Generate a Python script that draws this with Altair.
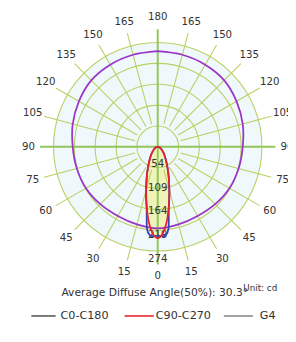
import altair as alt
import pandas as pd

# ---------------- data ----------------
MAX_CD = 274
RING_LABELS = [54, 109, 164, 219, 274]
ANGLE_LABELS = [0, 15, 30, 45, 60, 75, 90, 105, 120, 135, 150, 165, 180]

LOBE_ANGLES = [0, 2.5, 5, 7.5, 10, 12.5, 15, 20, 25, 30, 40, 50, 60, 70, 80, 90]
C0_C180 = [207, 208, 207, 192, 148, 123, 104, 75, 54, 40, 24, 14, 9, 5, 2, 0]
C90_C270 = [213, 207, 191, 170, 146, 125, 105, 75, 54, 40, 24, 14, 9, 5, 2, 0]

G4_ANGLES = [0, 15, 30, 45, 60, 75, 90, 105, 120, 135, 150, 165, 180]
G4 = [190, 187, 186, 189, 193, 195, 198, 205, 212, 219, 221, 222, 223]

SPOKE_ANGLES = [15, 30, 45, 60, 75, 105, 120, 135, 150, 165]

TITLE = "Average Diffuse Angle(50%): 30.3°"
UNIT = "Unit: cd"
LEGEND = ["C0-C180", "C90-C270", "G4"]
LEGEND_COLORS = ["#555555", "#e8202a", "#8a8a8a"]

# ---------------- layout ----------------
W, H = 288, 334
CXP, CYP = 154, 138       # centre of the polar plot in view pixels
R_PX = 121                 # outer ring radius in pixels
K = MAX_CD / R_PX          # cd per pixel

xs = alt.Scale(domain=[-CXP * K, (W - CXP) * K], nice=False, zero=False)
ys = alt.Scale(domain=[-(H - CYP) * K, CYP * K], nice=False, zero=False)
X = lambda f: alt.X(f, type="quantitative", scale=xs, axis=None)
Y = lambda f: alt.Y(f, type="quantitative", scale=ys, axis=None)

GRID = "#bccf62"
AXIS_GREEN = "#93c65a"
FONT = "DejaVu Sans"


def full_curve(angles, vals, name):
    rows = []
    for a, v in zip(reversed(angles), reversed(vals)):
        rows.append((-a, v))
    for a, v in zip(angles[1:], vals[1:]):
        rows.append((a, v))
    return pd.DataFrame({"a": [r[0] for r in rows], "r": [r[1] for r in rows],
                         "i": list(range(len(rows))), "s": name})


polar_xy = dict(x="datum.r*sin(datum.a*PI/180)", y="-datum.r*cos(datum.a*PI/180)")

# background disc
bg = alt.Chart(pd.DataFrame({"r": [MAX_CD]})).mark_point(
    shape="circle", filled=True, color="#eff8fb", opacity=1, strokeWidth=0
).encode(
    x=alt.value(CXP), y=alt.value(CYP),
    size=alt.Size("sz:Q", scale=None, legend=None)
).transform_calculate(sz=f"PI*pow(datum.r/{K},2)")

# lobe fill (C90-C270 area)
lobe_df = pd.DataFrame({"a": LOBE_ANGLES, "r": C90_C270})
lobe_fill = alt.Chart(lobe_df).mark_area(
    orient="horizontal", color="#eef2a8", opacity=0.8, interpolate="monotone"
).encode(
    y=Y("y"), x=X("x"), x2="x2"
).transform_calculate(**polar_xy).transform_calculate(x2="-datum.x")

# rings
ring_df = pd.DataFrame({"r": [MAX_CD * (i + 1) / 5 for i in range(5)]})
rings = alt.Chart(ring_df).mark_point(
    shape="circle", filled=False, color=GRID, strokeWidth=1.1, opacity=1
).encode(
    x=alt.value(CXP), y=alt.value(CYP),
    size=alt.Size("sz:Q", scale=None, legend=None)
).transform_calculate(sz=f"PI*pow(datum.r/{K},2)")

# spokes
sp_rows = []
for a in SPOKE_ANGLES:
    sp_rows.append({"a": a})
    sp_rows.append({"a": -a})
spokes = alt.Chart(pd.DataFrame(sp_rows)).mark_rule(color=GRID, strokeWidth=1.1).encode(
    x=X("x1"), y=Y("y1"), x2="x2", y2="y2"
).transform_calculate(
    x1=f"{MAX_CD/5}*sin(datum.a*PI/180)", y1=f"-{MAX_CD/5}*cos(datum.a*PI/180)",
    x2=f"{MAX_CD}*sin(datum.a*PI/180)", y2=f"-{MAX_CD}*cos(datum.a*PI/180)"
)

axes_df = pd.DataFrame({"x1": [0, -MAX_CD], "y1": [-MAX_CD, 0], "x2": [0, MAX_CD], "y2": [MAX_CD, 0]})
main_axes = alt.Chart(axes_df).mark_rule(color=AXIS_GREEN, strokeWidth=2).encode(
    x=X("x1"), y=Y("y1"), x2="x2", y2="y2"
)

# ring labels
ring_lab = alt.Chart(pd.DataFrame({"v": RING_LABELS, "i": range(1, 6)})).mark_text(
    font=FONT, fontSize=10.5, color="#333333", baseline="middle", align="center"
).encode(
    x=alt.value(CXP), y=Y("y"), text="v:Q"
).transform_calculate(y=f"-(datum.i*{MAX_CD}/5 - 6*{K})")

# curves
curves_df = pd.concat([
    full_curve(G4_ANGLES, G4, "G4"),
    full_curve(LOBE_ANGLES, C0_C180, "C0-C180"),
    full_curve(LOBE_ANGLES, C90_C270, "C90-C270"),
])
curves = alt.Chart(curves_df).mark_line(strokeWidth=1.8, interpolate="cardinal").encode(
    x=X("x"), y=Y("y"), order="i:Q", detail="s:N",
    color=alt.Color("s:N", scale=alt.Scale(domain=["G4", "C0-C180", "C90-C270"],
                                           range=["#9a35c8", "#3a3fb8", "#e8202a"]), legend=None)
).transform_calculate(**polar_xy)

# angle labels
al_rows = []
for a in ANGLE_LABELS:
    al_rows.append({"a": a, "t": str(a)})
    if 0 < a < 180:
        al_rows.append({"a": -a, "t": str(a)})
ang_lab = alt.Chart(pd.DataFrame(al_rows)).mark_text(
    font=FONT, fontSize=10.5, color="#333333", baseline="middle", align="center"
).encode(
    x=X("x"), y=Y("y"), text="t:N"
).transform_calculate(x=f"133*{K}*sin(datum.a*PI/180)", y=f"-133*{K}*cos(datum.a*PI/180)")

one = pd.DataFrame({"d": [0]})
title = alt.Chart(one).mark_text(font=FONT, fontSize=11, color="#333333", align="center",
                                 baseline="middle").encode(
    x=alt.value(151), y=alt.value(288), text=alt.value(TITLE))
unit = alt.Chart(one).mark_text(font=FONT, fontSize=9, color="#333333", align="left",
                                baseline="middle").encode(
    x=alt.value(242), y=alt.value(283), text=alt.value(UNIT))

leg_layers = []
line_x = [(24, 49), (120, 150), (222, 252)]
text_x = [54, 152, 259]
for name, col, (a, b), tx in zip(LEGEND, LEGEND_COLORS, line_x, text_x):
    leg_layers.append(alt.Chart(one).mark_rule(color=col, strokeWidth=1.6).encode(
        x=alt.value(a), x2=alt.value(b), y=alt.value(312)))
    leg_layers.append(alt.Chart(one).mark_text(font=FONT, fontSize=11.5, color="#333333",
                                               align="left", baseline="middle").encode(
        x=alt.value(tx), y=alt.value(312), text=alt.value(name)))

chart = alt.layer(
    bg, lobe_fill, rings, spokes, main_axes, ring_lab, curves, ang_lab, title, unit, *leg_layers
).properties(
    width=W, height=H, padding=0, autosize=alt.AutoSizeParams(type="none"), background="white"
).configure_view(stroke=None)

chart.save("out.html", embed_options={"renderer": "svg", "actions": False})
